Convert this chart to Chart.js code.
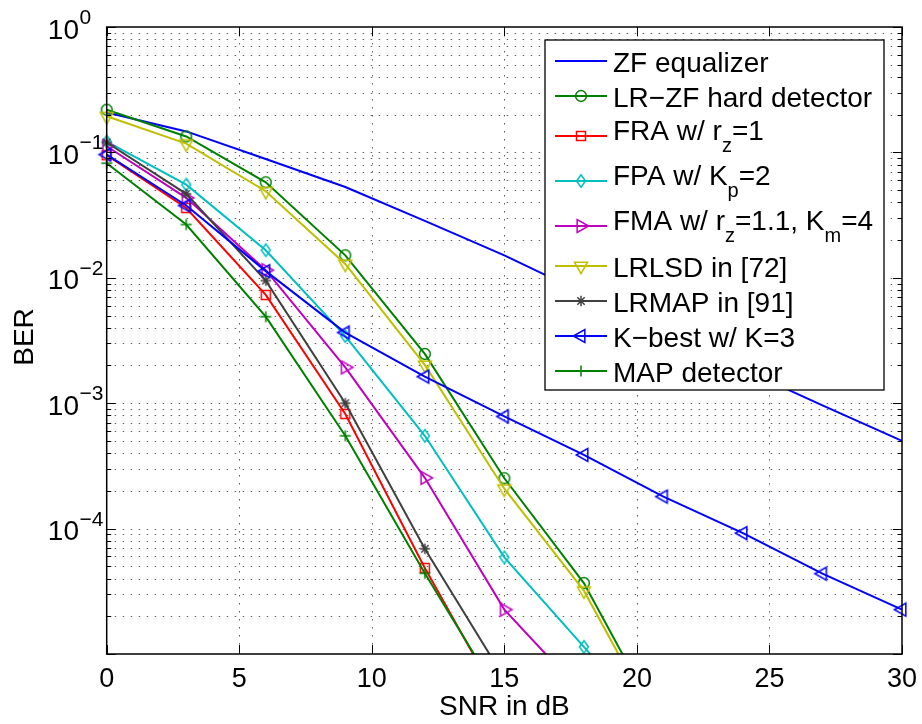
<!DOCTYPE html>
<html>
<head>
<meta charset="utf-8">
<script src="https://cdn.jsdelivr.net/npm/chart.js@4/dist/chart.umd.min.js"></script>
<style>
  html, body { margin: 0; padding: 0; background: #ffffff; }
  canvas { display: block; }
</style>
</head>
<body>
<canvas id="c" width="922" height="724"></canvas>
<script>
// ---------------- DATA ----------------
const snrDb = [0, 3, 6, 9, 12, 15, 18, 21, 24, 27, 30];

const berZfEqualizer = [0.208, 0.147, 0.0887, 0.053, 0.0284, 0.0151, 0.0075, 0.0037, 0.00187, 0.00096, 0.0005];
const berLrZfHard    = [0.219, 0.134, 0.0577, 0.0151, 0.00247, 0.000252, 0.0000368, 0.0000025];
const berFra         = [0.095, 0.036, 0.0073, 0.00082, 0.0000485, 0.0000036];
const berFpa         = [0.122, 0.0553, 0.0166, 0.00343, 0.00055, 0.000059, 0.0000114, 0.0000022];
const berFma         = [0.112, 0.0434, 0.0115, 0.00193, 0.000254, 0.0000226, 0.0000047];
const berLrlsd       = [0.194, 0.1175, 0.049, 0.0129, 0.00202, 0.000208, 0.000032, 0.0000022];
const berLrmap       = [0.12, 0.0467, 0.0095, 0.001, 0.000069, 0.0000064];
const berKbest       = [0.096, 0.0377, 0.0113, 0.00366, 0.00163, 0.000785, 0.000387, 0.00018, 0.000092, 0.0000437, 0.0000226];
const berMap         = [0.082, 0.0266, 0.0049, 0.00055, 0.000044, 0.000004];

const seriesLabels = [
  'ZF equalizer',
  'LR\u2212ZF hard detector',
  'FRA w/ r_{z}=1',
  'FPA w/ K_{p}=2',
  'FMA w/ r_{z}=1.1, K_{m}=4',
  'LRLSD in [72]',
  'LRMAP in [91]',
  'K\u2212best w/ K=3',
  'MAP detector'
];

const xTickValues = [0, 5, 10, 15, 20, 25, 30];
const yDecadeExponents = [0, -1, -2, -3, -4];   // labelled decades
const xAxisTitle = 'SNR in dB';
const yAxisTitle = 'BER';

// ---------------- STYLES ----------------
const seriesValues = [berZfEqualizer, berLrZfHard, berFra, berFpa, berFma, berLrlsd, berLrmap, berKbest, berMap];
const seriesColors = ['#0000ff', '#008000', '#ff0000', '#00bfbf', '#bf00bf', '#bfbf00', '#404040', '#0000ff', '#008000'];
const seriesMarkers = [null, 'circle', 'square', 'diamond', 'triRight', 'triDown', 'star', 'triLeft', 'plus'];
const FONT = '"Liberation Sans", Arial, Helvetica, sans-serif';

function makeMarker(kind, color) {
  const s = 26, c = s / 2;
  const cv = document.createElement('canvas');
  cv.width = s; cv.height = s;
  const g = cv.getContext('2d');
  g.strokeStyle = color;
  g.lineWidth = 1.5;
  g.beginPath();
  const h = 11.5, w = 13;
  switch (kind) {
    case 'circle': g.arc(c, c, 5.4, 0, Math.PI * 2); break;
    case 'square': g.rect(c - 4.5, c - 4.5, 9, 9); break;
    case 'diamond':
      g.moveTo(c, c - 6.3); g.lineTo(c + 4.5, c); g.lineTo(c, c + 6.3); g.lineTo(c - 4.5, c); g.closePath(); break;
    case 'triDown':
      g.moveTo(c - w / 2, c - h / 3); g.lineTo(c + w / 2, c - h / 3); g.lineTo(c, c + 2 * h / 3); g.closePath(); break;
    case 'triRight':
      g.moveTo(c - h / 3, c - w / 2); g.lineTo(c - h / 3, c + w / 2); g.lineTo(c + 2 * h / 3, c); g.closePath(); break;
    case 'triLeft':
      g.moveTo(c + h / 3, c - w / 2); g.lineTo(c + h / 3, c + w / 2); g.lineTo(c - 2 * h / 3, c); g.closePath(); break;
    case 'star': {
      const r = 5.2;
      for (let k = 0; k < 4; k++) {
        const a = k * Math.PI / 4;
        g.moveTo(c - r * Math.cos(a), c - r * Math.sin(a));
        g.lineTo(c + r * Math.cos(a), c + r * Math.sin(a));
      }
      break;
    }
    case 'plus':
      g.moveTo(c - 5.5, c); g.lineTo(c + 5.5, c); g.moveTo(c, c - 5.5); g.lineTo(c, c + 5.5); break;
  }
  g.stroke();
  return cv;
}

const markerImages = seriesMarkers.map((m, i) => m ? makeMarker(m, seriesColors[i]) : null);

const datasets = seriesValues.map((vals, i) => ({
  label: seriesLabels[i].replace(/_\{([^}]*)\}/g, '$1'),
  data: vals.map((v, j) => ({ x: snrDb[j], y: v })),
  borderColor: seriesColors[i],
  backgroundColor: seriesColors[i],
  borderWidth: 2,
  pointStyle: markerImages[i] || 'circle',
  pointRadius: markerImages[i] ? 6 : 0,
  pointHoverRadius: markerImages[i] ? 6 : 0,
  tension: 0,
  fill: false,
  order: seriesValues.length - i,
  clip: { left: 20, top: 20, right: 20, bottom: 0 }
}));

// ---------------- helpers ----------------
function parseRich(s) {
  const out = []; const re = /_\{([^}]*)\}/g; let last = 0, m;
  while ((m = re.exec(s))) {
    if (m.index > last) out.push({ t: s.slice(last, m.index), sub: false });
    out.push({ t: m[1], sub: true });
    last = re.lastIndex;
  }
  if (last < s.length) out.push({ t: s.slice(last), sub: false });
  return out;
}
function drawRich(ctx, s, x, baseline, size, subSize, subDrop) {
  let cx = x;
  ctx.textAlign = 'left';
  ctx.textBaseline = 'alphabetic';
  parseRich(s).forEach(seg => {
    ctx.font = (seg.sub ? subSize : size) + 'px ' + FONT;
    ctx.fillText(seg.t, cx, seg.sub ? baseline + subDrop : baseline);
    cx += ctx.measureText(seg.t).width;
  });
}
function seg(ctx, x1, y1, x2, y2) { ctx.beginPath(); ctx.moveTo(x1, y1); ctx.lineTo(x2, y2); ctx.stroke(); }

// ---------------- plugin: MATLAB-like axes, grid, labels, legend ----------------
const matlabPlugin = {
  id: 'matlabLook',
  beforeDatasetsDraw(chart) {
    const { ctx, chartArea: a, scales: { x, y } } = chart;
    ctx.save();
    ctx.strokeStyle = 'rgba(0,0,0,0.62)';
    ctx.lineWidth = 1;
    ctx.setLineDash([1.5, 6.5]);
    xTickValues.forEach(v => {
      const px = Math.round(x.getPixelForValue(v)) + 0.5;
      if (px < a.left + 2 || px > a.right - 2) return;
      seg(ctx, px, a.top, px, a.bottom);
    });
    for (let e = -5; e <= 0; e++) {
      for (let m = 1; m <= 9; m++) {
        const v = m * Math.pow(10, e);
        if (v > 1.0001) continue;
        const py = Math.round(y.getPixelForValue(v)) + 0.5;
        if (py < a.top + 2 || py > a.bottom - 2) continue;
        seg(ctx, a.left, py, a.right, py);
      }
    }
    ctx.restore();
  },
  afterDatasetsDraw(chart) {
    const { ctx, chartArea: a, scales: { x, y } } = chart;
    ctx.save();
    ctx.strokeStyle = '#000';
    ctx.lineWidth = 1.5;
    ctx.setLineDash([]);
    ctx.strokeRect(a.left, a.top, a.right - a.left, a.bottom - a.top);
    ctx.lineWidth = 1;
    xTickValues.forEach(v => {
      const px = Math.round(x.getPixelForValue(v)) + 0.5;
      seg(ctx, px, a.bottom, px, a.bottom - 9);
      seg(ctx, px, a.top, px, a.top + 9);
    });
    for (let e = -5; e <= 0; e++) {
      for (let m = 1; m <= 9; m++) {
        const v = m * Math.pow(10, e);
        if (v > 1.0001) continue;
        const py = Math.round(y.getPixelForValue(v)) + 0.5;
        const len = m === 1 ? 9 : 4.5;
        seg(ctx, a.left, py, a.left + len, py);
        seg(ctx, a.right, py, a.right - len, py);
      }
    }
    ctx.restore();
  },
  afterDraw(chart) {
    const { ctx, chartArea: a, scales: { x, y } } = chart;
    ctx.save();
    ctx.fillStyle = '#000';
    // x tick labels
    ctx.font = '27px ' + FONT;
    ctx.textAlign = 'center';
    ctx.textBaseline = 'alphabetic';
    xTickValues.forEach(v => ctx.fillText(String(v), x.getPixelForValue(v), a.bottom + 33));
    // y tick labels 10^k
    yDecadeExponents.forEach(e => {
      const py = y.getPixelForValue(Math.pow(10, e));
      ctx.font = '28px ' + FONT;
      ctx.textAlign = 'right';
      ctx.fillText('10', 79, py + 11.5);
      ctx.font = '21px ' + FONT;
      ctx.textAlign = 'left';
      ctx.fillText(e === 0 ? '0' : '\u2212' + Math.abs(e), 79.5, py - 3);
    });
    // axis titles
    ctx.font = '28px ' + FONT;
    ctx.textAlign = 'center';
    ctx.fillText(xAxisTitle, (a.left + a.right) / 2, 715);
    ctx.save();
    ctx.translate(33.3, 337);
    ctx.rotate(-Math.PI / 2);
    ctx.fillText(yAxisTitle, 0, 0);
    ctx.restore();

    // legend
    const box = { left: 545, top: 40, right: 884, bottom: 390 };
    ctx.fillStyle = '#fff';
    ctx.fillRect(box.left, box.top, box.right - box.left, box.bottom - box.top);
    ctx.strokeStyle = '#000';
    ctx.lineWidth = 1.3;
    ctx.strokeRect(box.left, box.top, box.right - box.left, box.bottom - box.top);
    const hasSub = seriesLabels.map(s => s.indexOf('_{') >= 0);
    const rowH = hasSub.map(h => h ? 45 : 35);
    let ly = 61;
    seriesLabels.forEach((lab, i) => {
      if (i > 0) ly += (rowH[i - 1] + rowH[i]) / 2;
      ctx.strokeStyle = seriesColors[i];
      ctx.lineWidth = 2;
      seg(ctx, 555, ly, 607, ly);
      if (markerImages[i]) {
        const img = markerImages[i];
        ctx.drawImage(img, 581 - img.width / 2, ly - img.height / 2);
      }
      ctx.fillStyle = '#000';
      const base = hasSub[i] ? ly + 4 : ly + 10.5;
      drawRich(ctx, lab, 613, base, 28, 20, 12);
    });
    ctx.restore();
  }
};

Chart.defaults.font.family = FONT;

new Chart(document.getElementById('c'), {
  type: 'line',
  data: { datasets },
  options: {
    responsive: false,
    animation: false,
    devicePixelRatio: 1,
    events: [],
    layout: { padding: { left: 106.7, right: 20, top: 27, bottom: 70 } },
    scales: {
      x: { type: 'linear', min: 0, max: 30, display: false },
      y: { type: 'logarithmic', min: 1e-5, max: 1, display: false }
    },
    plugins: { legend: { display: false }, tooltip: { enabled: false }, title: { display: false } }
  },
  plugins: [matlabPlugin]
});
</script>
</body>
</html>
